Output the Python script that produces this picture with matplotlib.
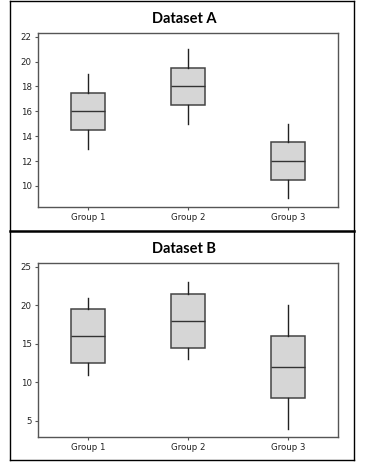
"""
Box plots of three groups for two datasets
"""

from matplotlib import pyplot as plt
from matplotlib.lines import Line2D

groups = ['Group 1', 'Group 2', 'Group 3']

# Dataset A: whisker low, q1, median, q3, whisker high
a_low = [13, 15, 9]
a_q1 = [14.5, 16.5, 10.5]
a_med = [16, 18, 12]
a_q3 = [17.5, 19.5, 13.5]
a_high = [19, 21, 15]
a_ticks = [10, 12, 14, 16, 18, 20, 22]

# Dataset B
b_low = [11, 13, 4]
b_q1 = [12.5, 14.5, 8]
b_med = [16, 18, 12]
b_q3 = [19.5, 21.5, 16]
b_high = [21, 23, 20]
b_ticks = [5, 10, 15, 20, 25]

W, H = 368, 469


def make_stats(low, q1, med, q3, high):
    stats = []
    for i in range(len(groups)):
        stats.append({'label': groups[i], 'whislo': low[i], 'q1': q1[i], 'med': med[i],
                      'q3': q3[i], 'whishi': high[i], 'fliers': []})
    return stats


def draw_panel(ax, title, stats, ticks, ylim):
    ax.bxp(stats, positions=[1, 2, 3], widths=0.34, showcaps=False, patch_artist=True,
           boxprops=dict(facecolor='#d6d6d6', edgecolor='#444444', linewidth=1.1),
           medianprops=dict(color='#333333', linewidth=1.0),
           whiskerprops=dict(color='#222222', linewidth=1.0))
    ax.set_xlim(0.5, 3.5)
    ax.set_ylim(*ylim)
    ax.set_yticks(ticks)
    ax.set_xticks([1, 2, 3])
    ax.set_xticklabels(groups)
    ax.tick_params(labelsize=6.2, length=2.5, width=0.8, color='#555555', pad=2, labelcolor='#222222')
    for s in ax.spines.values():
        s.set_color('#555555')
        s.set_linewidth(1.0)
    ax.set_title(title, fontsize=10.5, fontweight='bold', family='Lato', pad=7, x=0.487)


fig = plt.figure(figsize=(W / 100, H / 100), dpi=100)

ax1 = fig.add_axes([38 / W, 1 - 207 / H, 300 / W, 174 / H])
draw_panel(ax1, 'Dataset A', make_stats(a_low, a_q1, a_med, a_q3, a_high), a_ticks, (8.3, 22.3))

ax2 = fig.add_axes([38 / W, 1 - 437 / H, 300 / W, 174 / H])
draw_panel(ax2, 'Dataset B', make_stats(b_low, b_q1, b_med, b_q3, b_high), b_ticks, (2.9, 25.5))

# outer frame around both panels
x0, x1 = 9.5 / W, 354 / W
y_top, y_mid, y_bot = 1 - 1 / H, 1 - 231 / H, 1 - 460 / H
for xs, ys, lw in [([x0, x1], [y_top, y_top], 1.0), ([x0, x1], [y_bot, y_bot], 1.0),
                   ([x0, x0], [y_top, y_bot], 1.0), ([x1, x1], [y_top, y_bot], 1.0),
                   ([x0, x1], [y_mid, y_mid], 1.8)]:
    fig.add_artist(Line2D(xs, ys, color='black', linewidth=lw))

fig.savefig('out.png', dpi=100)
